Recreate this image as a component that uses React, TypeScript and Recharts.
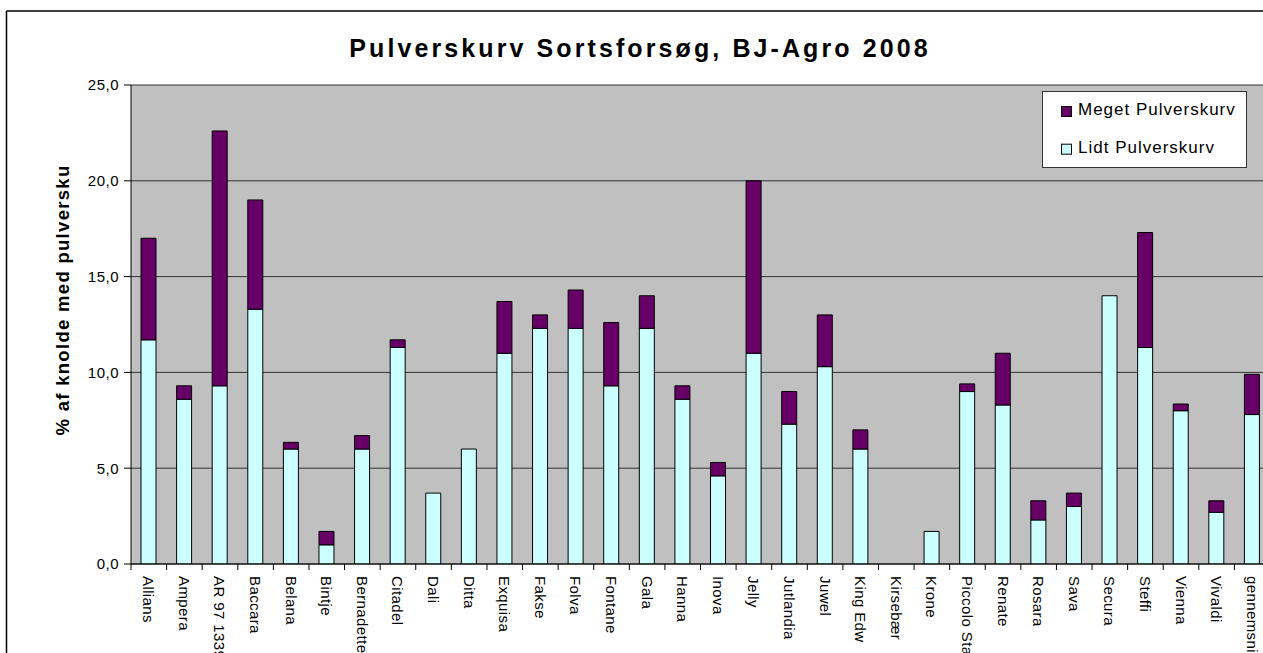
import React from 'react';
import { BarChart, Bar, XAxis, YAxis, CartesianGrid, Legend } from 'recharts';

const categories = [
  'Allians', 'Ampera', 'AR 97 1339', 'Baccara', 'Belana', 'Bintje', 'Bernadette', 'Citadel',
  'Dali', 'Ditta', 'Exquisa', 'Fakse', 'Folva', 'Fontane', 'Gala', 'Hanna', 'Inova', 'Jelly',
  'Jutlandia', 'Juwel', 'King Edw', 'Kirsebær', 'Krone', 'Piccolo Star', 'Renate', 'Rosara',
  'Sava', 'Secura', 'Steffi', 'Vienna', 'Vivaldi', 'gennemsnit',
];
const lidt = [
  11.7, 8.6, 9.3, 13.3, 6.0, 1.0, 6.0, 11.3, 3.7, 6.0, 11.0, 12.3, 12.3, 9.3, 12.3, 8.6, 4.6, 11.0,
  7.3, 10.3, 6.0, 0, 1.7, 9.0, 8.3, 2.3, 3.0, 14.0, 11.3, 8.0, 2.7, 7.8,
];
const meget = [
  5.3, 0.7, 13.3, 5.7, 0.35, 0.7, 0.7, 0.4, 0, 0, 2.7, 0.7, 2.0, 3.3, 1.7, 0.7, 0.7, 9.0,
  1.7, 2.7, 1.0, 0, 0, 0.4, 2.7, 1.0, 0.7, 0, 6.0, 0.35, 0.6, 2.1,
];
const yTicks = [0, 5, 10, 15, 20, 25];
const seriesNames = { lidt: 'Lidt Pulverskurv', meget: 'Meget Pulverskurv' };
const titleText = 'Pulverskurv Sortsforsøg, BJ-Agro 2008';
const yLabelText = '% af knolde med pulversku';

const data = categories.map((name, i) => ({ name, lidt: lidt[i], meget: meget[i] }));

const FONT = "Arial, 'Liberation Sans', sans-serif";
const PLOT_LEFT = 131;
const PLOT_RIGHT = 1270;
const BAND = (PLOT_RIGHT - PLOT_LEFT) / categories.length;
const COLORS = { lidt: '#CCFFFF', meget: '#660066' };

function XTick(props: any) {
  const { x, y, payload, index } = props;
  return (
    <g>
      <line x1={x - BAND / 2} x2={x - BAND / 2} y1={y} y2={y + 6} stroke="#000" strokeWidth={1} />
      {index === categories.length - 1 && (
        <line x1={x + BAND / 2} x2={x + BAND / 2} y1={y} y2={y + 6} stroke="#000" strokeWidth={1} />
      )}
      <text
        transform={`translate(${x},${y + 12}) rotate(90)`}
        textAnchor="start"
        dominantBaseline="central"
        fontSize={15}
        fontFamily={FONT}
        letterSpacing={0.4}
        fill="#000"
      >
        {payload.value}
      </text>
    </g>
  );
}

function LegendBox(props: any) {
  const payload = (props.payload || []).slice().reverse();
  return (
    <svg width={206} height={78} style={{ display: 'block' }}>
      <rect x={0.5} y={0.5} width={204} height={76} fill="#fff" stroke="#333" strokeWidth={1} />
      {payload.map((p: any, i: number) => (
        <g key={p.value}>
          <rect x={19.5} y={15.5 + i * 37.7} width={10} height={10} fill={p.color} stroke="#000" strokeWidth={1} />
          <text x={36} y={24 + i * 37.7} fontSize={17} fontFamily={FONT} letterSpacing={1} fill="#000">
            {p.value}
          </text>
        </g>
      ))}
    </svg>
  );
}

export default function App() {
  return (
    <>
      <style>{`html, body { margin: 0; padding: 0; overflow: hidden; } ::-webkit-scrollbar { display: none; width: 0; height: 0; }`}</style>
      <div style={{ position: 'fixed', left: 0, top: 0, width: 1263, height: 653, overflow: 'hidden', background: '#fff' }}>
        <svg width={1263} height={653} style={{ position: 'absolute', left: 0, top: 0 }}>
          <line x1={6.5} y1={11} x2={1263} y2={11} stroke="#000" strokeWidth={1.5} />
          <line x1={6.5} y1={11} x2={6.5} y2={653} stroke="#000" strokeWidth={1.5} />
          <text x={640} y={57} textAnchor="middle" fontSize={25} fontWeight="bold" fontFamily={FONT} letterSpacing={3.1} fill="#000">
            {titleText}
          </text>
          <text
            transform="translate(69,300) rotate(-90)"
            textAnchor="middle"
            fontSize={18.5}
            fontWeight="bold"
            fontFamily={FONT}
            letterSpacing={1.3}
            fill="#000"
          >
            {yLabelText}
          </text>
        </svg>
        <div style={{ position: 'absolute', left: 0, top: 0 }}>
          <BarChart
            width={1300}
            height={720}
            data={data}
            margin={{ top: 85, right: 1300 - PLOT_RIGHT, bottom: 56, left: PLOT_LEFT - 60 }}
            barSize={15}
          >
            <CartesianGrid vertical={false} fill="#C0C0C0" stroke="#333" strokeOpacity={1} fillOpacity={1} />
            <XAxis
              dataKey="name"
              interval={0}
              height={100}
              tickLine={false}
              tickSize={0}
              tickMargin={0}
              axisLine={{ stroke: '#000' }}
              tick={<XTick />}
            />
            <YAxis
              width={60}
              domain={[0, 25]}
              ticks={yTicks}
              allowDataOverflow
              tickSize={7}
              tickMargin={5}
              axisLine={{ stroke: '#000' }}
              tickLine={{ stroke: '#000' }}
              tick={{ fontSize: 15, fontFamily: FONT, fill: '#000', letterSpacing: 0.5 }}
              tickFormatter={(v: number) => v.toFixed(1).replace('.', ',')}
            />
            <Legend
              layout="horizontal"
              verticalAlign="middle"
              align="center"
              content={<LegendBox />}
              wrapperStyle={{ position: 'absolute', left: 1042, top: 91, width: 206, height: 78, right: 'auto', bottom: 'auto' }}
            />
            <Bar dataKey="lidt" name={seriesNames.lidt} stackId="a" fill={COLORS.lidt} stroke="#000" strokeWidth={1} isAnimationActive={false} />
            <Bar dataKey="meget" name={seriesNames.meget} stackId="a" fill={COLORS.meget} stroke="#000" strokeWidth={1} isAnimationActive={false} />
          </BarChart>
        </div>
      </div>
    </>
  );
}
